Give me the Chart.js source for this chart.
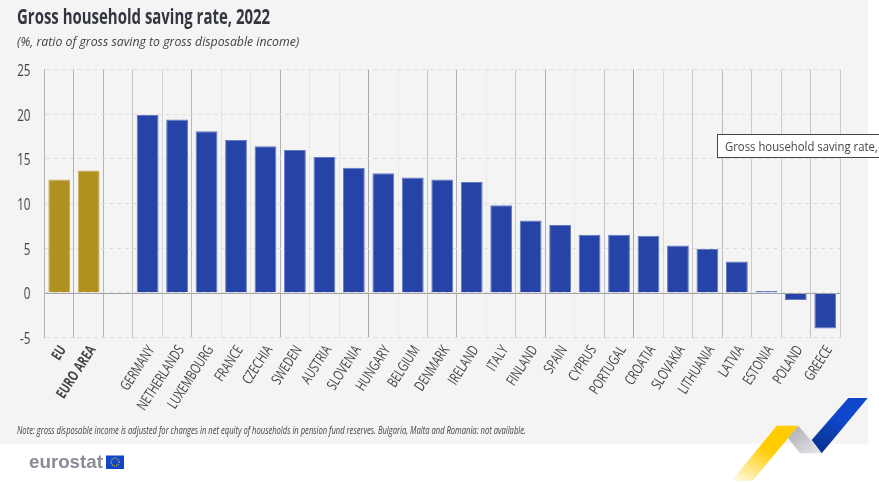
<!DOCTYPE html>
<html><head><meta charset="utf-8">
<script src="https://cdn.jsdelivr.net/npm/chart.js@4"></script>
<style>
html,body{margin:0;padding:0;background:#fff;width:879px;height:483px;overflow:hidden}
#panel{position:absolute;left:0;top:0;width:868px;height:444px;background:#f4f4f4}
#wrap{position:absolute;left:0;top:0;width:879px;height:483px}
.t{position:absolute;white-space:nowrap;font-family:"Open Sans",sans-serif;transform-origin:0 0}
#title{left:17px;top:0px;font-size:22px;font-weight:bold;color:#33363f}
#sub{left:17px;top:32px;font-size:13.5px;font-style:italic;color:#444}
#note{left:17px;top:423px;font-size:10.5px;font-style:italic;color:#444}
#logo{left:29px;top:451px;font-family:"Liberation Sans",sans-serif;font-size:19px;font-weight:bold;color:#8a8d96}
#tip{position:absolute;left:717px;top:134px;height:24px;width:170px;box-sizing:border-box;background:#fff;border:1px solid #444}
#tipt{left:7px;top:3px;font-size:12.5px;color:#444}
svg{position:absolute;left:0;top:0}
</style></head><body>
<div id="panel"></div>
<div id="wrap"><canvas id="c" width="879" height="483"></canvas></div>
<div class="t" id="title" data-w="253">Gross household saving rate, 2022</div>
<div class="t" id="sub" data-w="282">(%, ratio of gross saving to gross disposable income)</div>
<div class="t" id="note" data-w="509">Note: gross disposable income is adjusted for changes in net equity of households in pension fund reserves. Bulgaria, Malta and Romania: not available.</div>
<div class="t" id="logo" data-w="74">eurostat</div>
<svg width="879" height="483">
<defs>
<linearGradient id="gy" x1="0.75" y1="0.1" x2="0.1" y2="1"><stop offset="0.35" stop-color="#ffcc00"/><stop offset="1" stop-color="#fff8dc"/></linearGradient>
<linearGradient id="gg" x1="0" y1="0" x2="1" y2="1"><stop offset="0" stop-color="#a8aaae"/><stop offset="1" stop-color="#e8e9ec"/></linearGradient>
<linearGradient id="gb" x1="0.8" y1="0" x2="0.2" y2="1"><stop offset="0.4" stop-color="#0e47cb"/><stop offset="1" stop-color="#0a328e"/></linearGradient>
</defs>
<polygon points="776.7,425.7 798.3,425.7 752.7,480.7 731.7,480.7" fill="url(#gy)"/>
<polygon points="798.3,425.7 821.7,453.3 800,453.3 788,438" fill="url(#gg)"/>
<polygon points="848.3,398 867.7,398 821.7,453.3 811.7,440" fill="url(#gb)"/>
<rect x="106" y="455.5" width="18" height="13.5" fill="#0e47cb"/>
<circle cx="115" cy="462" r="4" fill="none" stroke="#ffcc00" stroke-width="1.1" stroke-dasharray="1 1.1"/>
</svg>
<div id="tip"><div class="t" id="tipt" data-w="153">Gross household saving rate,</div></div>
<script>
const categories = ["EU","EURO AREA","","GERMANY","NETHERLANDS","LUXEMBOURG","FRANCE","CZECHIA","SWEDEN","AUSTRIA","SLOVENIA","HUNGARY","BELGIUM","DENMARK","IRELAND","ITALY","FINLAND","SPAIN","CYPRUS","PORTUGAL","CROATIA","SLOVAKIA","LITHUANIA","LATVIA","ESTONIA","POLAND","GREECE"];
const savingRate = [12.7,13.7,null,19.9,19.4,18.1,17.1,16.4,16.0,15.2,14.0,13.4,12.9,12.7,12.4,9.8,8.1,7.6,6.5,6.5,6.4,5.3,4.9,3.5,0.2,-0.8,-4.0];
const aggregates = ["EU","EURO AREA"];
const gridShades = ["#b4b4b4","#b4b4b4","#b4b4b4","#c4c4c4","#d4d4d4","#b8b8b8","#e2e2e2","#e2e2e2","#b0b0b0","#e6e6e6","#e6e6e6","#a8a8a8","#ebebeb","#c4c4c4","#b0b0b0","#ececec","#c8c8c8","#b0b0b0","#ececec","#c4c4c4","#a8a8a8","#d8d8d8","#c8c8c8","#bcbcbc","#cccccc","#cccccc","#c4c4c4","#d0d0d0"];
document.querySelectorAll('[data-w]').forEach(e=>{e.style.transform='scaleX('+(+e.dataset.w/e.offsetWidth)+')';});
const canvas=document.getElementById('c'),ctx=canvas.getContext('2d');
const condense=0.73,rawFill=ctx.fillText.bind(ctx);
ctx.fillText=function(s,x,y,m){ctx.save();ctx.scale(condense,1);rawFill(s,x/condense,y);ctx.restore();};
const zeroLine = {id:'zeroLine',afterDatasetsDraw(ch){const s=ch.scales.y,a=ch.chartArea,c=ch.ctx,y=Math.round(s.getPixelForValue(0))+.5;c.save();c.strokeStyle='#a4a4a8';c.lineWidth=1;c.beginPath();c.moveTo(a.left,y);c.lineTo(a.right,y);c.stroke();c.restore();}};
new Chart(canvas,{
 type:'bar',
 data:{labels:categories,datasets:[{data:savingRate,
  backgroundColor:categories.map(n=>aggregates.includes(n)?'#b0901f':'#2644a7'),
  borderColor:categories.map(n=>aggregates.includes(n)?'#c4ad5c':'#6479c0'),
  borderWidth:1,barPercentage:0.74,categoryPercentage:1}]},
 plugins:[zeroLine],
 options:{responsive:false,animation:false,
  layout:{padding:{left:0,right:39,top:69.5,bottom:0}},
  plugins:{legend:{display:false},tooltip:{enabled:false},title:{display:false}},
  scales:{
   x:{offset:true,
    afterFit(s){s.height=145.5},
    grid:{drawTicks:false,lineWidth:1,color:c=>gridShades[c.index]||'#ccc'},
    border:{display:false},
    ticks:{autoSkip:false,maxRotation:57,minRotation:57,padding:5,labelOffset:4,color:'#444',
     font:c=>({family:'"Open Sans",sans-serif',size:14.5,weight:aggregates.includes(categories[c.index])?'bold':'normal'})}},
   y:{min:-5,max:25,
    afterFit(s){s.width=44.5},
    grid:{drawTicks:false,color:'#dedede',lineWidth:1},
    border:{display:false,dash:[4,4]},
    ticks:{stepSize:5,padding:14,labelOffset:2,color:'#444',font:{family:'"Open Sans",sans-serif',size:16}}}
  }}
});
</script>
</body></html>
